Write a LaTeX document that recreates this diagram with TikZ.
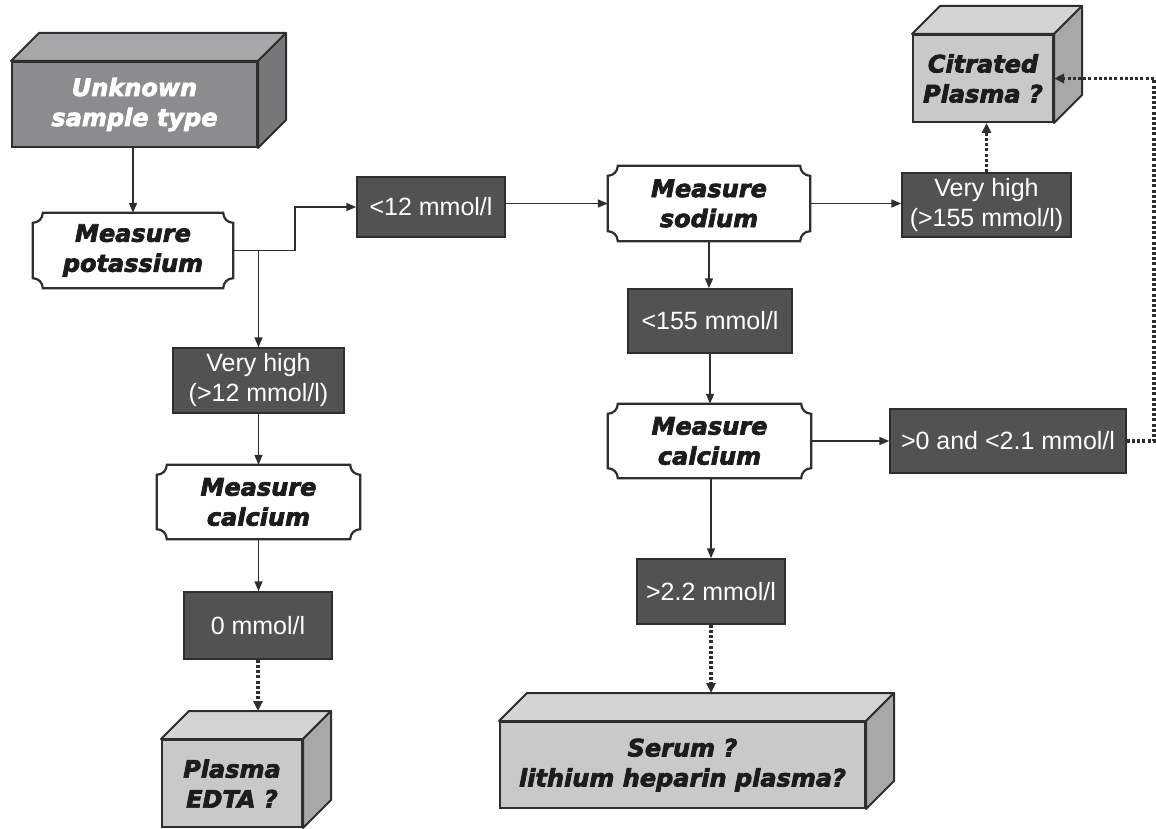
\documentclass[tikz,border=0pt]{standalone}
\usepackage{fontspec}
\setmainfont{Liberation Sans}
\newfontfamily\headfont{DejaVu Sans}[BoldItalicFeatures={FakeBold=3}]
\usetikzlibrary{arrows.meta,calc}

\definecolor{edge}{HTML}{2E2E2E}
\definecolor{valfill}{HTML}{525252}
\definecolor{lightfront}{HTML}{C9C9C9}
\definecolor{lighttop}{HTML}{D4D4D4}
\definecolor{lightside}{HTML}{A8A8A8}
\definecolor{darkfront}{HTML}{8C8C8E}
\definecolor{darktop}{HTML}{A7A7A9}
\definecolor{darkside}{HTML}{77777A}
\definecolor{inktext}{HTML}{1C1C1C}

% outline with concave quarter-circle corners
\newcommand\notched[1]{%
  \draw[notchline] let \p1=(#1.north west), \p2=(#1.south east) in
    (\x1,\y1-10pt) .. controls (\x1+5.5pt,\y1-10pt) and (\x1+10pt,\y1-5.5pt) .. (\x1+10pt,\y1)
    -- (\x2-10pt,\y1) .. controls (\x2-10pt,\y1-5.5pt) and (\x2-5.5pt,\y1-10pt) .. (\x2,\y1-10pt)
    -- (\x2,\y2+10pt) .. controls (\x2-5.5pt,\y2+10pt) and (\x2-10pt,\y2+5.5pt) .. (\x2-10pt,\y2)
    -- (\x1+10pt,\y2) .. controls (\x1+10pt,\y2+5.5pt) and (\x1+5.5pt,\y2+10pt) .. (\x1,\y2+10pt)
    -- cycle;}

% top and side faces of a box drawn in oblique projection
\newcommand\cuboid[3]{%
  \filldraw[fill=#2, facedge] (#1.north west) -- ($(#1.north west)+(28,-28)$)
    -- ($(#1.north east)+(28,-28)$) -- (#1.north east) -- cycle;
  \filldraw[fill=#3, facedge] (#1.north east) -- ($(#1.north east)+(28,-28)$)
    -- ($(#1.south east)+(28,-28)$) -- (#1.south east) -- cycle;}

\begin{document}
\begin{tikzpicture}[x=1pt,y=-1pt,
  valbox/.style={draw=edge, fill=valfill, line width=1.5pt, text=white,
    font=\fontsize{25}{30}\selectfont, align=center, inner sep=0pt},
  stepnode/.style={inner sep=0pt, align=center, text=inktext,
    font=\headfont\bfseries\itshape\fontsize{24}{30}\selectfont},
  notchline/.style={draw=edge, line width=2.2pt},
  facedge/.style={draw=edge, line width=2pt, line join=round},
  blockfront/.style={draw=edge, line width=2pt, inner sep=0pt, align=center,
    font=\headfont\bfseries\itshape\fontsize{24}{30}\selectfont},
  link/.style={draw=edge, line width=1.6pt, -{Triangle[length=10pt,width=8pt]}},
  dotlink/.style={draw=edge, line width=3.4pt, dash pattern=on 3pt off 2.2pt,
    -{Triangle[length=10pt,width=9pt]}}
]
\useasboundingbox (0,0) rectangle (1156,829);

% ---- sample blocks ----
\node[blockfront, fill=darkfront, text=white, minimum width=245pt, minimum height=85pt]
  (unk) at (134.5,104.5) {Unknown\\sample type};
\cuboid{unk}{darktop}{darkside}

\node[blockfront, fill=lightfront, text=inktext, minimum width=140pt, minimum height=87pt]
  (cit) at (983,78.5) {Citrated\\Plasma ?};
\cuboid{cit}{lighttop}{lightside}

\node[blockfront, fill=lightfront, text=inktext, minimum width=140pt, minimum height=87pt]
  (edta) at (232,783.5) {Plasma\\EDTA ?};
\cuboid{edta}{lighttop}{lightside}

\node[blockfront, fill=lightfront, text=inktext, minimum width=365pt, minimum height=86pt]
  (ser) at (682.5,765) {Serum ?\\lithium heparin plasma?};
\cuboid{ser}{lighttop}{lightside}

% ---- measurement steps ----
\node[stepnode, minimum width=200pt, minimum height=75pt] (pot) at (133,250.5) {Measure\\potassium};
\notched{pot}
\node[stepnode, minimum width=203pt, minimum height=74pt] (calL) at (258.5,502) {Measure\\calcium};
\notched{calL}
\node[stepnode, minimum width=202pt, minimum height=75pt] (sod) at (709,203.5) {Measure\\sodium};
\notched{sod}
\node[stepnode, minimum width=203pt, minimum height=74pt] (calR) at (709.5,441) {Measure\\calcium};
\notched{calR}

% ---- measured values ----
\node[valbox, minimum width=148pt, minimum height=60pt] (lt12) at (431,207) {<12 mmol/l};
\node[valbox, minimum width=171pt, minimum height=65pt] (vh12) at (258.5,380.5) {Very high\\(>12 mmol/l)};
\node[valbox, minimum width=148pt, minimum height=67pt] (zero) at (258,625.5) {0 mmol/l};
\node[valbox, minimum width=169pt, minimum height=64pt] (vh155) at (986.5,205) {Very high\\(>155 mmol/l)};
\node[valbox, minimum width=164pt, minimum height=64pt] (lt155) at (710,321) {<155 mmol/l};
\node[valbox, minimum width=236pt, minimum height=64pt] (rng) at (1008,441) {>0 and <2.1 mmol/l};
\node[valbox, minimum width=148pt, minimum height=65pt] (gt22) at (711,591.5) {>2.2 mmol/l};

% ---- routing points ----
\coordinate (jog) at (295,0);
\coordinate (rim) at (1154,0);
\coordinate (edtatop) at ($(edta.north west)+(28,-28)$);
\coordinate (sertop) at ($(ser.north west)+(28,-28)$);

% ---- connectors ----
\draw[link] (pot.north |- unk.south) -- (pot.north);
\draw[link] (pot.east) -- (pot.east -| jog) -- (jog |- lt12.west) -- (lt12.west);
\draw[link] (pot.east -| vh12.north) -- (vh12.north);
\draw[link] (vh12.south) -- (vh12.south |- calL.north);
\draw[link] (calL.south) -- (calL.south |- zero.north);
\draw[dotlink] (zero.south) -- (zero.south |- edtatop);

\draw[link] (lt12.east |- sod.west) -- (sod.west);
\draw[link] (sod.east) -- (sod.east -| vh155.west);
\draw[dotlink] (vh155.north) -- (vh155.north |- cit.south);
\draw[link] (sod.south) -- (sod.south |- lt155.north);
\draw[link] (lt155.south) -- (lt155.south |- calR.north);
\draw[link] (calR.east) -- (rng.west);
\draw[link] (gt22.north |- calR.south) -- (gt22.north);
\draw[dotlink] (gt22.south) -- (gt22.south |- sertop);
\draw[dotlink] (rng.east) -- (rng.east -| rim) -- (rim |- cit.east) -- (cit.east);
\end{tikzpicture}
\end{document}
